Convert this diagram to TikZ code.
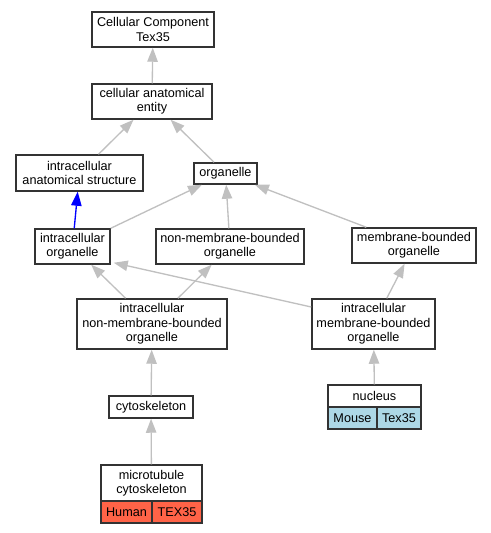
\documentclass[tikz,border=0pt]{standalone}
\usepackage{fontspec}
\setmainfont{Liberation Sans}
\usetikzlibrary{arrows.meta,calc}
\definecolor{edgegray}{HTML}{C0C0C0}
\definecolor{boxline}{HTML}{333333}
\definecolor{humanfill}{HTML}{FF6347}
\definecolor{mousefill}{HTML}{ADD8E6}
\tikzset{
  term/.style={draw=boxline, line width=1.1pt, fill=white, rectangle, inner sep=0pt, align=center,
    font=\fontsize{9.5}{10.8}\selectfont},
  cell/.style={term, font=\fontsize{9.5}{10.8}\selectfont},
  edge/.style={draw=edgegray, line width=1pt, -{Triangle[length=10.5pt,width=7.8pt,fill=edgegray]}},
  blueedge/.style={draw=blue, line width=1pt, -{Triangle[length=10.5pt,width=7.8pt,fill=blue]}},
}
\begin{document}
\begin{tikzpicture}[x=0.75pt,y=-0.75pt]
\useasboundingbox (0,0) rectangle (491,533);
\node[term, minimum width=122*0.75pt, minimum height=35*0.75pt] (cc) at (153,29.5) {Cellular Component\\Tex35};
\node[term, minimum width=120*0.75pt, minimum height=35*0.75pt] (cae) at (152,101.5) {cellular anatomical\\entity};
\node[term, minimum width=127*0.75pt, minimum height=36*0.75pt] (ias) at (79.5,173) {intracellular\\anatomical structure};
\node[term, minimum width=63*0.75pt, minimum height=21*0.75pt] (org) at (225.5,173.5) {organelle};
\node[term, minimum width=75*0.75pt, minimum height=35*0.75pt] (io) at (72.5,246.5) {intracellular\\organelle};
\node[term, minimum width=148*0.75pt, minimum height=35*0.75pt] (nmbo) at (230,246.5) {non-membrane-bounded\\organelle};
\node[term, minimum width=124*0.75pt, minimum height=35*0.75pt] (mbo) at (414,245.5) {membrane-bounded\\organelle};
\node[term, minimum width=150*0.75pt, minimum height=50*0.75pt] (inmbo) at (152,324) {intracellular\\non-membrane-bounded\\organelle};
\node[term, minimum width=123*0.75pt, minimum height=50*0.75pt] (imbo) at (373.5,324) {intracellular\\membrane-bounded\\organelle};
\node[term, minimum width=84*0.75pt, minimum height=22*0.75pt] (cyto) at (151,407) {cytoskeleton};
% nucleus
\node[term, minimum width=93*0.75pt, minimum height=22*0.75pt] (nuc) at (374.5,396) {nucleus};
\node[cell, fill=mousefill, minimum width=49*0.75pt, minimum height=22*0.75pt] (nucm) at (352.5,418) {Mouse};
\node[cell, fill=mousefill, minimum width=44*0.75pt, minimum height=22*0.75pt] (nuct) at (399,418) {Tex35};
% microtubule cytoskeleton
\node[term, minimum width=101*0.75pt, minimum height=36*0.75pt] (mtc) at (151.5,483) {microtubule\\cytoskeleton};
\node[cell, fill=humanfill, minimum width=51*0.75pt, minimum height=22*0.75pt] (mtch) at (126.5,512) {Human};
\node[cell, fill=humanfill, minimum width=50*0.75pt, minimum height=22*0.75pt] (mtct) at (177,512) {TEX35};
% edges
\draw[edge] (cae) -- (cc);
\draw[edge] (ias) -- (cae);
\draw[edge] (org) -- (cae);
\draw[blueedge] (io) -- (ias);
\draw[edge] (io) -- (org);
\draw[edge] (nmbo) -- (org);
\draw[edge] (mbo) -- (org);
\draw[edge] (inmbo) -- (io);
\draw[edge] (inmbo) -- (nmbo);
\draw[edge] ($(imbo.west)+(0,-17)$) -- ($(io.south east)+(3,-2)$);
\draw[edge] (imbo) -- (mbo);
\draw[edge] (cyto) -- (inmbo);
\draw[edge] (mtc) -- (cyto);
\draw[edge] (nuc) -- (imbo);
\end{tikzpicture}
\end{document}
